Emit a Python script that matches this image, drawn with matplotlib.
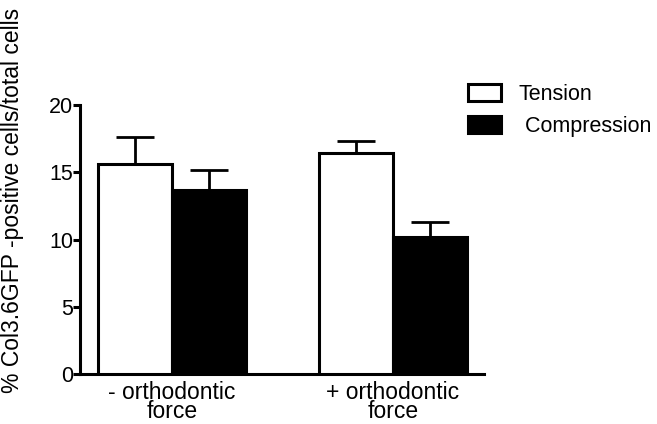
import matplotlib.pyplot as plt
import numpy as np
from matplotlib.patches import Patch

plt.rcParams['font.family'] = ['Liberation Sans', 'DejaVu Sans']

groups = ["- orthodontic\nforce", "+ orthodontic\nforce"]
tension = [15.6, 16.4]
tension_err = [2.0, 0.95]
compression = [13.7, 10.2]
compression_err = [1.5, 1.1]

fig = plt.figure(figsize=(6.57, 4.24), dpi=100)
ax = fig.add_axes([80/657, 1 - 374/424, 404/657, 269/424])

x = np.arange(len(groups))
w = 0.335
lw = 2.2
ax.bar(x - w/2, tension, w, color="white", edgecolor="black", linewidth=lw, zorder=3)
ax.bar(x + w/2, compression, w, color="black", edgecolor="black", linewidth=lw, zorder=3)
ax.errorbar(x - w/2, tension, yerr=[np.zeros(2), tension_err], fmt="none",
            ecolor="black", elinewidth=2, capsize=14, capthick=2, zorder=2)
ax.errorbar(x + w/2, compression, yerr=[np.zeros(2), compression_err], fmt="none",
            ecolor="black", elinewidth=2, capsize=14, capthick=2, zorder=2)

ax.set_xlim(-0.416, 1.412)
ax.set_ylim(0, 20)
ax.set_yticks([0, 5, 10, 15, 20])
ax.tick_params(axis="y", direction="out", length=5, width=lw, labelsize=15.5, pad=0)
ax.tick_params(axis="x", length=0, labelsize=16.5, pad=5)
ax.set_xticks(x)
ax.set_xticklabels(groups, linespacing=0.78)
for s in ["top", "right"]:
    ax.spines[s].set_visible(False)
for s in ["left", "bottom"]:
    ax.spines[s].set_linewidth(lw)

fig.text(13/657, 1 - 200/424, "% Col3.6GFP -positive cells/total cells",
         rotation=90, ha="center", va="center", fontsize=16.5)

handles = [Patch(facecolor="white", edgecolor="black", linewidth=lw, label="Tension"),
           Patch(facecolor="black", edgecolor="black", linewidth=lw, label=" Compression")]
fig.legend(handles=handles, loc="upper left", bbox_to_anchor=(468/657, 1 - 84/424),
           frameon=False, fontsize=15.5, handlelength=1.55, handleheight=0.85,
           handletextpad=0.8, labelspacing=0.5, borderpad=0, borderaxespad=0)

fig.savefig("out.png", dpi=100)
